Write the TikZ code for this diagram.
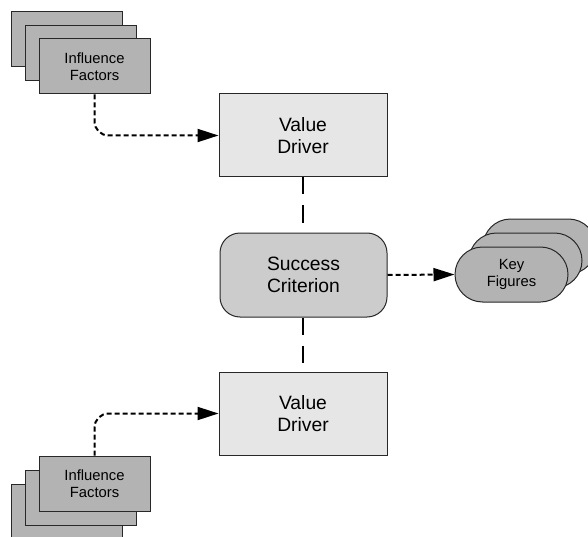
\documentclass[tikz,border=0pt]{standalone}
\usepackage{fontspec}
\setmainfont{Liberation Sans}
\usetikzlibrary{arrows.meta}
\definecolor{vdfill}{RGB}{230,230,230}
\definecolor{scfill}{RGB}{204,204,204}
\definecolor{darkfill}{RGB}{179,179,179}
\definecolor{edge}{RGB}{40,40,40}
\begin{document}
\begin{tikzpicture}[x=1pt,y=-1pt,
  bigtext/.style={font=\fontsize{19.3}{22.7}\selectfont, align=center},
  smalltext/.style={font=\fontsize{14.8}{17}\selectfont, align=center},
  vdbox/.style={rectangle, draw=edge, line width=1pt, fill=vdfill, minimum width=168pt, minimum height=83pt, inner sep=0pt, bigtext},
  scbox/.style={rectangle, rounded corners=20pt, draw=edge, line width=1pt, fill=scfill, minimum width=167pt, minimum height=84pt, inner sep=0pt, bigtext},
  ifbox/.style={rectangle, draw=edge, line width=1pt, fill=darkfill, minimum width=111pt, minimum height=55pt, inner sep=0pt, smalltext},
  kfbox/.style={rectangle, rounded corners=27.5pt, draw=edge, line width=1pt, fill=darkfill, minimum width=113pt, minimum height=55pt, inner sep=0pt, smalltext},
  dotline/.style={line width=2pt, dash pattern=on 5pt off 3pt, -{Triangle[length=21pt,width=13pt]}, rounded corners=14pt},
  dashline/.style={line width=2pt, dash pattern=on 17pt off 11pt},
]
\useasboundingbox (0,0) rectangle (588,537);
\fill[white] (0,0) rectangle (588,537);
% top influence factors stack
\node[ifbox] (if1c) at (66.5,39.5) {};
\node[ifbox] (if1b) at (80.5,53) {};
\node[ifbox] (if1) at (94.5,66.5) {Influence\\Factors};
% bottom influence factors stack
\node[ifbox] (if2c) at (66.5,511.5) {};
\node[ifbox] (if2b) at (80.5,497.5) {};
\node[ifbox] (if2) at (94.5,483.5) {Influence\\Factors};
% key figures stack
\node[kfbox] (kfc) at (539.5,246.5) {};
\node[kfbox] (kfb) at (525.5,260.5) {};
\node[kfbox] (kf) at (511.5,274.5) {Key\\Figures};
% main boxes
\node[vdbox] (vd1) at (303,135.5) {Value\\Driver};
\node[scbox] (sc) at (303.5,275) {Success\\Criterion};
\node[vdbox] (vd2) at (303,413.5) {Value\\Driver};
% connectors
\draw[dashline] (vd1.south) -- (vd1.south |- sc.north);
\draw[dashline] (vd2.north |- sc.south) -- (vd2.north);
\draw[dotline] (if1.south) |- (vd1.west);
\draw[dotline] (if2.north) |- (vd2.west);
\draw[dotline] (sc.east) -- (kf.west);
\end{tikzpicture}
\end{document}
